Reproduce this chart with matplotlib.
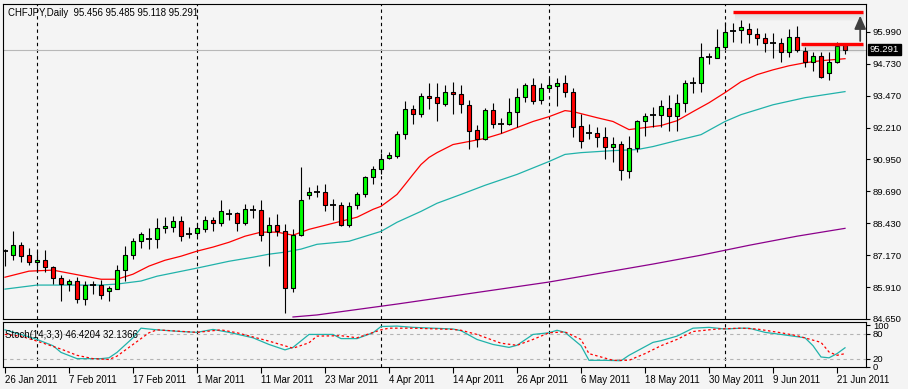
import numpy as np
import matplotlib.pyplot as plt
from matplotlib.transforms import blended_transform_factory

plt.rcParams['font.family'] = ['Liberation Sans', 'DejaVu Sans']

W, H = 908, 389
BG = '#f4f4f4'

# dzienne świece CHFJPY, 26 sty - 22 cze 2011
opens = [87.33, 87.17, 87.56, 87.17, 86.89, 86.97, 86.70, 86.26, 86.03, 86.15,
         85.44, 85.99, 85.99, 85.75, 85.83, 86.58, 87.17, 87.72, 87.80, 87.80,
         88.23, 88.27, 88.51, 88.00, 88.04, 88.19, 88.55, 88.43, 88.78, 88.82,
         88.43, 88.94, 88.94, 88.08, 88.35, 88.11, 85.87, 87.96, 89.53, 89.65,
         89.65, 89.14, 89.14, 88.35, 89.14, 89.57, 90.24, 90.56, 90.99, 91.07,
         91.97, 92.96, 92.76, 93.47, 93.43, 93.15, 93.63, 93.55, 93.11, 92.13,
         91.74, 92.92, 92.37, 92.37, 92.84, 93.43, 93.90, 93.31, 93.78, 93.86,
         93.98, 93.63, 92.29, 92.01, 92.01, 91.85, 91.46, 91.58, 90.48, 91.42,
         92.45, 92.72, 92.72, 93.00, 92.68, 93.19, 93.98, 93.98, 95.00, 94.97,
         95.40, 96.03, 96.07, 96.11, 95.91, 95.75, 95.56, 95.56, 95.20, 95.79,
         95.24, 94.81, 95.04, 94.37, 94.81, 95.456]
highs = [87.41, 88.11, 87.68, 87.45, 87.33, 87.37, 86.74, 86.38, 86.22, 86.30,
         86.15, 86.15, 86.19, 85.95, 86.78, 87.52, 87.84, 88.08, 88.23, 88.63,
         88.67, 88.71, 88.71, 88.27, 88.43, 88.71, 88.67, 89.33, 88.98, 88.86,
         89.18, 89.14, 89.33, 88.67, 88.78, 88.39, 88.19, 90.67, 89.85, 89.93,
         90.00, 89.37, 89.26, 89.26, 89.65, 90.28, 90.71, 91.19, 91.26, 92.09,
         93.27, 93.11, 93.59, 93.98, 93.98, 93.90, 94.02, 93.90, 93.31, 92.33,
         93.00, 93.19, 92.60, 93.39, 93.78, 93.98, 94.18, 93.98, 94.18, 94.18,
         94.30, 93.78, 92.76, 92.37, 92.25, 92.25, 91.82, 91.66, 91.89, 92.52,
         92.80, 93.04, 93.31, 93.51, 93.55, 94.10, 94.22, 95.56, 95.16, 96.11,
         96.38, 96.34, 96.46, 96.34, 96.15, 95.95, 95.95, 95.75, 96.11, 96.22,
         95.40, 95.20, 95.20, 95.20, 95.59, 95.485]
lows = [86.74, 86.97, 86.89, 86.78, 86.50, 86.50, 86.03, 85.36, 85.75, 85.28,
        85.20, 85.63, 85.44, 85.36, 85.83, 86.15, 87.01, 87.45, 87.41, 87.45,
        88.04, 88.08, 87.72, 87.84, 87.92, 88.08, 88.11, 88.31, 88.55, 88.11,
        88.35, 88.63, 87.72, 86.74, 87.92, 84.89, 85.71, 87.92, 89.37, 89.45,
        88.90, 88.55, 88.31, 88.27, 88.98, 89.45, 90.00, 90.36, 90.95, 90.99,
        91.74, 92.37, 92.64, 92.96, 92.45, 93.08, 92.76, 92.80, 91.38, 91.46,
        91.70, 92.21, 92.01, 92.33, 92.25, 93.23, 93.15, 93.15, 93.71, 93.08,
        93.43, 91.85, 91.42, 91.74, 91.46, 90.95, 90.87, 90.12, 90.20, 91.26,
        91.89, 92.25, 92.25, 92.09, 92.09, 92.84, 93.59, 93.63, 94.73, 94.97,
        95.28, 95.59, 95.56, 95.56, 95.48, 95.20, 94.97, 94.81, 95.00, 95.20,
        94.61, 94.45, 94.18, 94.10, 94.77, 95.118]
closes = [87.33, 87.56, 87.13, 86.89, 86.97, 86.70, 86.26, 86.03, 86.15, 85.44,
          85.99, 85.99, 85.59, 85.87, 86.58, 87.17, 87.72, 88.00, 87.80, 88.23,
          88.31, 88.51, 87.92, 88.00, 88.23, 88.55, 88.43, 88.90, 88.78, 88.43,
          88.98, 88.94, 87.96, 88.35, 88.11, 85.87, 87.96, 89.33, 89.65, 89.65,
          89.14, 89.14, 88.35, 89.10, 89.57, 90.24, 90.56, 90.95, 91.11, 91.97,
          92.96, 92.76, 93.47, 93.39, 93.19, 93.63, 93.55, 93.15, 92.09, 91.74,
          92.92, 92.37, 92.37, 92.84, 93.43, 93.90, 93.27, 93.78, 93.90, 93.98,
          93.63, 92.25, 91.66, 92.01, 91.85, 91.46, 91.58, 90.52, 91.42, 92.48,
          92.68, 92.72, 93.08, 92.68, 93.19, 93.98, 93.98, 95.00, 95.00, 95.40,
          95.99, 96.03, 96.19, 95.91, 95.75, 95.56, 95.56, 95.20, 95.79, 95.28,
          94.81, 95.04, 94.22, 94.81, 95.44, 95.291]

# średnie kroczące (odczyt co kilka świec)
red_idx = [0, 3, 6, 8, 10, 12, 14, 16, 18, 20, 22, 24, 26, 28, 30, 32, 34, 36, 38, 40,
           42, 44, 46, 47, 48, 49, 50, 51, 52, 53, 54, 56, 58, 60, 62, 64, 66, 68, 70, 71,
           72, 74, 76, 78, 80, 82, 84, 86, 88, 90, 92, 94, 96, 98, 100, 102, 105]
red_val = [86.30, 86.54, 86.58, 86.46, 86.34, 86.22, 86.22, 86.42, 86.74, 86.97,
           87.13, 87.33, 87.49, 87.68, 87.92, 88.08, 88.08, 87.96, 88.19, 88.35,
           88.51, 88.67, 88.98, 89.10, 89.33, 89.57, 89.96, 90.36, 90.75, 91.03,
           91.22, 91.54, 91.66, 91.78, 91.97, 92.21, 92.45, 92.64, 92.88, 92.84,
           92.76, 92.60, 92.45, 92.13, 92.21, 92.29, 92.48, 92.84, 93.19, 93.59,
           94.02, 94.30, 94.49, 94.65, 94.77, 94.85, 94.93]
teal_idx = [0, 4, 8, 12, 14, 17, 19, 24, 28, 31, 33, 35, 37, 39, 43, 47, 49, 52, 54, 57,
            60, 64, 68, 70, 72, 76, 79, 81, 84, 87, 90, 92, 96, 100, 105]
teal_val = [85.83, 85.99, 85.99, 85.99, 86.03, 86.15, 86.34, 86.66, 86.93, 87.09,
            87.21, 87.29, 87.41, 87.60, 87.72, 88.11, 88.47, 88.90, 89.22, 89.57,
            89.93, 90.36, 90.87, 91.15, 91.22, 91.30, 91.34, 91.46, 91.70, 91.93,
            92.45, 92.72, 93.11, 93.39, 93.63]
pur_idx = [36, 39, 49, 56, 68, 81, 87, 93, 99, 105]
pur_val = [84.73, 84.81, 85.24, 85.56, 86.11, 86.82, 87.17, 87.56, 87.92, 88.23]

# stochastic %K i %D
k_idx = [0, 2, 4, 6, 7, 9, 12, 13, 14, 16, 17, 19, 22, 24, 26, 28, 31, 33, 35, 36,
         38, 41, 42, 44, 46, 47, 49, 51, 56, 57, 59, 61, 63, 64, 66, 68, 69, 70, 72, 73,
         75, 77, 78, 81, 82, 84, 86, 88, 90, 92, 93, 95, 97, 100, 101, 102, 103, 104, 105]
k_val = [89, 78, 66, 51, 35, 20, 20, 22, 35, 70, 93, 89, 85, 83, 90, 83, 70, 54, 41, 47,
         78, 78, 68, 68, 82, 97, 98, 95, 91, 87, 66, 54, 47, 52, 78, 82, 88, 83, 51, 16,
         16, 15, 28, 59, 63, 74, 93, 95, 91, 93, 93, 83, 78, 70, 51, 24, 22, 32, 46]
d_idx = [0, 2, 4, 7, 9, 11, 13, 14, 16, 18, 19, 24, 27, 29, 33, 36, 38, 39, 42, 44,
         47, 48, 51, 56, 57, 59, 62, 64, 66, 68, 70, 72, 73, 76, 78, 80, 82, 84, 86, 89,
         92, 94, 97, 99, 102, 103, 104, 105]
d_val = [78, 74, 62, 43, 28, 20, 18, 26, 54, 82, 89, 83, 89, 82, 62, 45, 58, 74, 75, 70,
         89, 93, 93, 90, 88, 78, 57, 52, 66, 82, 84, 66, 32, 16, 16, 32, 51, 66, 85, 91,
         93, 91, 82, 75, 59, 36, 28, 32]

separators = [4, 24, 47, 68, 90]  # początki miesięcy
x_labels = ["26 Jan 2011", "7 Feb 2011", "17 Feb 2011", "1 Mar 2011", "11 Mar 2011",
            "23 Mar 2011", "4 Apr 2011", "14 Apr 2011", "26 Apr 2011", "6 May 2011",
            "18 May 2011", "30 May 2011", "9 Jun 2011", "21 Jun 2011"]
price_ticks = [84.650, 85.910, 87.170, 88.430, 89.690, 90.950, 92.210, 93.470, 94.730, 95.990]
bid = 95.291
top_level, low_level = 96.79, 95.52


fig = plt.figure(figsize=(W / 100, H / 100), dpi=100, facecolor=BG)


def px_axes(x0, y0, x1, y1):
    return fig.add_axes([x0 / W, 1 - y1 / H, (x1 - x0) / W, (y1 - y0) / H])


ax = px_axes(3, 4, 866, 319)
ax2 = px_axes(3, 322, 866, 367)
for a in (ax, ax2):
    a.set_facecolor(BG)
    a.set_xlim(-0.25, 107.625)
    for s in a.spines.values():
        s.set_color('black')
        s.set_linewidth(0.8)
    for sep in separators:
        a.axvline(sep, color='black', lw=0.8, ls=(0, (3, 3)), zorder=1)

ax.set_ylim(84.69, 97.09)

# świece
x = np.arange(len(opens))
o = np.array(opens)
c = np.array(closes)
up, dn, dj = c > o, c < o, c == o
ax.vlines(x, lows, highs, color='black', lw=0.8, zorder=3)
ax.bar(x[up], (c - o)[up], bottom=o[up], width=0.62, color='#00ff00', edgecolor='black', lw=0.8, zorder=4)
ax.bar(x[dn], (c - o)[dn], bottom=o[dn], width=0.62, color='#ff0000', edgecolor='black', lw=0.8, zorder=4)
ax.hlines(c[dj], x[dj] - 0.35, x[dj] + 0.35, color='black', lw=1.3, zorder=4)

ax.plot(red_idx, red_val, color='#ff0000', lw=0.9, zorder=2)
ax.plot(teal_idx, teal_val, color='#20b2aa', lw=0.9, zorder=2)
ax.plot(pur_idx, pur_val, color='#8b008b', lw=0.9, zorder=2)

ax.axhline(bid, color='#b8b8b8', lw=0.8, zorder=1)

# linie użytkownika z cieniem i strzałką
for lvl, x0 in ((top_level, 91.0), (low_level, 99.5)):
    for k in range(1, 9):
        ax.hlines(lvl - k * 0.04, x0 + 0.3, 107.4, color='#808080', alpha=0.11 * (9 - k) / 8 + 0.02,
                  lw=1.2, zorder=4)
    ax.hlines(lvl, x0, 107.25, color='#ff0000', lw=2.4, zorder=6)
ax.annotate('', xy=(106.9, top_level - 0.05), xytext=(106.9, low_level),
            arrowprops=dict(arrowstyle='-|>,head_width=0.35,head_length=0.8', color='#404040', lw=1.3),
            zorder=7)

ax.yaxis.tick_right()
ax.set_yticks(price_ticks)
ax.set_yticklabels([f"{p:.3f}" for p in price_ticks])
ax.tick_params(axis='y', direction='out', length=3, width=0.8, pad=2, labelsize=6.8, colors='black')
ax.set_xticks([])

trans = blended_transform_factory(ax.transAxes, ax.transData)
ax.text(1.0045, bid, f"{bid:.3f}", transform=trans, fontsize=6.8, color='white', va='center', ha='left',
        bbox=dict(boxstyle='square,pad=0.15', fc='black', ec='black'), zorder=8, clip_on=False)

ax.text(0.0058, 0.971, "CHFJPY,Daily  95.456 95.485 95.118 95.291", transform=ax.transAxes,
        fontsize=6.9, va='center', ha='left')

# panel stochastic
ax2.set_ylim(3.9, 107.8)
ax2.axhline(80, color='#b4b4b4', lw=0.8, ls=(0, (3, 3)))
ax2.axhline(20, color='#b4b4b4', lw=0.8, ls=(0, (3, 3)))
ax2.plot(k_idx, k_val, color='#20b2aa', lw=0.9)
ax2.plot(d_idx, d_val, color='#ff0000', lw=0.9, ls=(0, (2, 2)))
ax2.text(0.002, 0.71, "Stoch(14,3,3) 46.4204 32.1366", transform=ax2.transAxes, fontsize=6.9,
         va='center', ha='left')

ax2.yaxis.tick_right()
ax2.set_yticks([100, 80, 20, 0])
ax2.set_yticklabels(['100', '80', '20', '0'])
ax2.tick_params(axis='y', direction='out', length=3, width=0.8, pad=2, labelsize=6.8)
ax2.set_xticks(range(0, 8 * len(x_labels), 8))
ax2.set_xticklabels(x_labels)
ax2.tick_params(axis='x', direction='out', length=4, width=0.8, pad=2, labelsize=6.9)
for lbl in ax2.get_xticklabels():
    lbl.set_ha('left')

fig.savefig('out.png', dpi=100, facecolor=BG)
